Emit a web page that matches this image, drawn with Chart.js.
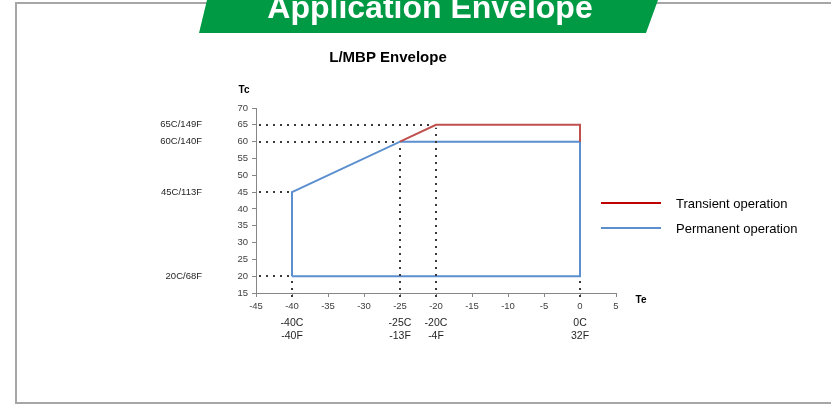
<!DOCTYPE html>
<html>
<head>
<meta charset="utf-8">
<script src="https://cdn.jsdelivr.net/npm/chart.js@4.4.1/dist/chart.umd.min.js"></script>
<style>
  html, body { margin: 0; padding: 0; background: #ffffff; }
  #wrap { position: relative; width: 831px; height: 406px; }
</style>
</head>
<body>
<div id="wrap"><canvas id="myChart" width="831" height="406"></canvas></div>
<script>
// envelope corners (Te, Tc)
var permanentTe = [-40, -40, -25, 0, 0, -40];
var permanentTc = [20, 45, 60, 60, 20, 20];
var transientTe = [-25, -20, 0, 0];
var transientTc = [60, 65, 65, 60];

// dotted guides: corner points marked on each axis
var guideHTe = [-20, -25, -40, -40];
var guideHTc = [65, 60, 45, 20];
var guideVTe = [-40, -25, -20, 0];
var guideVTc = [20, 60, 65, 20];

// side and bottom annotations
var leftLabelTc = [65, 60, 45, 20];
var leftLabels = ['65C/149F', '60C/140F', '45C/113F', '20C/68F'];
var bottomLabelTe = [-40, -25, -20, 0];
var bottomLabels = [['-40C', '-40F'], ['-25C', '-13F'], ['-20C', '-4F'], ['0C', '32F']];

var seriesNames = ['Transient operation', 'Permanent operation'];

function toPoints(xs, ys) {
    var pts = [];
    for (var i = 0; i < xs.length; i++) {
        pts.push({x: xs[i], y: ys[i]});
    }
    return pts;
}

var FONT = 'Arial, "Liberation Sans", sans-serif';

var decor = {
    id: 'decor',
    beforeDraw: function(chart) {
        var ctx = chart.ctx;
        ctx.save();
        // frame
        ctx.strokeStyle = '#a6a6a6';
        ctx.lineWidth = 2;
        ctx.beginPath();
        ctx.moveTo(831, 3);
        ctx.lineTo(16, 3);
        ctx.lineTo(16, 403);
        ctx.lineTo(831, 403);
        ctx.stroke();
        // green banner
        ctx.fillStyle = '#009a44';
        ctx.beginPath();
        ctx.moveTo(207, 0);
        ctx.lineTo(658, 0);
        ctx.lineTo(646, 33);
        ctx.lineTo(199, 33);
        ctx.closePath();
        ctx.fill();
        ctx.fillStyle = '#ffffff';
        ctx.font = 'bold 32px ' + FONT;
        ctx.textAlign = 'center';
        ctx.textBaseline = 'alphabetic';
        ctx.fillText('Application Envelope', 430, 18);
        ctx.restore();
    },
    afterDatasetsDraw: function(chart) {
        var ctx = chart.ctx;
        var xs = chart.scales.x, ys = chart.scales.y;
        ctx.save();
        // dotted guide lines
        ctx.strokeStyle = '#3a3a3a';
        ctx.lineWidth = 2;
        ctx.setLineDash([2, 5]);
        for (var i = 0; i < guideHTe.length; i++) {
            var yy = Math.round(ys.getPixelForValue(guideHTc[i]));
            ctx.beginPath();
            ctx.moveTo(xs.left + 3, yy);
            ctx.lineTo(xs.getPixelForValue(guideHTe[i]) - 3, yy);
            ctx.stroke();
        }
        for (var j = 0; j < guideVTe.length; j++) {
            var xx = Math.round(xs.getPixelForValue(guideVTe[j]));
            ctx.beginPath();
            ctx.moveTo(xx, ys.bottom + 4);
            ctx.lineTo(xx, ys.getPixelForValue(guideVTc[j]) + 3);
            ctx.stroke();
        }
        ctx.setLineDash([]);

        // title and axis names
        ctx.fillStyle = '#000000';
        ctx.font = 'bold 15px ' + FONT;
        ctx.textAlign = 'center';
        ctx.textBaseline = 'middle';
        ctx.fillText('L/MBP Envelope', 388, 58);
        ctx.font = 'bold 10px ' + FONT;
        ctx.fillText('Tc', xs.left - 12, ys.top - 18);
        ctx.fillText('Te', xs.right + 25, ys.bottom + 7);

        // left annotations
        ctx.font = '9.5px ' + FONT;
        ctx.fillStyle = '#262626';
        ctx.textAlign = 'right';
        for (var k = 0; k < leftLabels.length; k++) {
            ctx.fillText(leftLabels[k], 202, ys.getPixelForValue(leftLabelTc[k]));
        }
        // bottom annotations
        ctx.font = '10.5px ' + FONT;
        ctx.textAlign = 'center';
        for (var m = 0; m < bottomLabels.length; m++) {
            var bx = xs.getPixelForValue(bottomLabelTe[m]);
            ctx.fillText(bottomLabels[m][0], bx, ys.bottom + 30);
            ctx.fillText(bottomLabels[m][1], bx, ys.bottom + 43);
        }

        // legend
        var legendColors = ['#c00000', '#5b8fd0'];
        ctx.font = '13px ' + FONT;
        ctx.textAlign = 'left';
        for (var n = 0; n < seriesNames.length; n++) {
            var ly = 203 + n * 25;
            ctx.strokeStyle = legendColors[n];
            ctx.lineWidth = 2;
            ctx.beginPath();
            ctx.moveTo(601, ly);
            ctx.lineTo(661, ly);
            ctx.stroke();
            ctx.fillStyle = '#000000';
            ctx.fillText(seriesNames[n], 676, ly + 1);
        }
        ctx.restore();
    }
};

var ctx = document.getElementById('myChart').getContext('2d');
var chart = new Chart(ctx, {
    type: 'scatter',
    data: {
        datasets: [{
            label: seriesNames[0],
            data: toPoints(transientTe, transientTc),
            showLine: true,
            borderColor: '#c0504d',
            borderWidth: 2,
            pointRadius: 0,
            tension: 0
        }, {
            label: seriesNames[1],
            data: toPoints(permanentTe, permanentTc),
            showLine: true,
            borderColor: '#5b8fd0',
            borderWidth: 2,
            pointRadius: 0,
            tension: 0
        }]
    },
    options: {
        responsive: false,
        animation: false,
        layout: {
            padding: {left: 226, right: 215, top: 108, bottom: 93}
        },
        plugins: {
            legend: {display: false},
            tooltip: {enabled: false}
        },
        scales: {
            x: {
                type: 'linear',
                min: -45,
                max: 5,
                afterFit: function(scale) { scale.height = 20; },
                ticks: {
                    stepSize: 5,
                    padding: 4,
                    color: '#404040',
                    font: {size: 9.5, family: FONT}
                },
                grid: {
                    drawOnChartArea: false,
                    drawTicks: true,
                    tickLength: 4,
                    color: '#868686'
                },
                border: {color: '#868686', width: 1}
            },
            y: {
                type: 'linear',
                min: 15,
                max: 70,
                afterFit: function(scale) { scale.width = 30; },
                ticks: {
                    stepSize: 5,
                    padding: 4,
                    color: '#404040',
                    font: {size: 9.5, family: FONT}
                },
                grid: {
                    drawOnChartArea: false,
                    drawTicks: true,
                    tickLength: 4,
                    color: '#868686'
                },
                border: {color: '#868686', width: 1}
            }
        }
    },
    plugins: [decor]
});
</script>
</body>
</html>
